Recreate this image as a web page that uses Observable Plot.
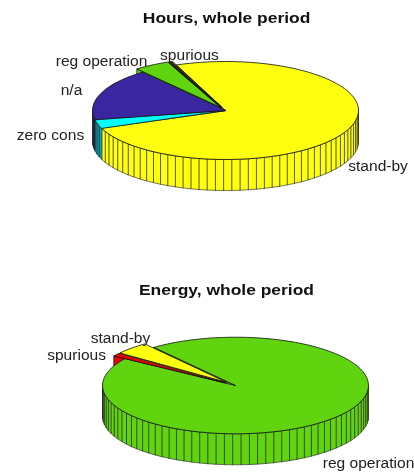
<!DOCTYPE html>
<html>
<head>
<meta charset="utf-8">
<script src="https://cdn.jsdelivr.net/npm/d3@7"></script>
<script src="https://cdn.jsdelivr.net/npm/@observablehq/plot@0.6"></script>
<style>
html,body{margin:0;padding:0;background:#fff;overflow:hidden}
svg{display:block;filter:blur(0.45px)}
</style>
</head>
<body>
<div id="chart"></div>
<script>
const hoursTitle = "Hours, whole period";
const hoursLabels = ["stand-by", "zero cons", "n/a", "reg operation", "spurious"];
const hoursValues = [75.1, 2.9, 17.3, 4.3, 0.4];
const hoursPulled = ["reg operation", "spurious"];

const energyTitle = "Energy, whole period";
const energyLabels = ["reg operation", "spurious", "stand-by"];
const energyValues = [94.86, 0.97, 4.17];
const energyPulled = ["spurious", "stand-by"];

const colorDomain = ["stand-by", "zero cons", "n/a", "reg operation", "spurious"];
const hoursColors = ["#ffff10", "#00ffff", "#3a26a0", "#5fd40f", "#2a2a10"];
const energyColors = ["#ffff10", "#00ffff", "#3a26a0", "#5fd40f", "#f00000"];
const hoursWalls = ["#ffff10", "#00a0b0", "#14104c", "#5fd40f", "#2a2a10"];
const energyWalls = ["#ffff10", "#00a0b0", "#14104c", "#5fd40f", "#f00000"];

function pie3d({title, labels, values, pulled, pull, colors, wallColors, start, cx, cy, ry, placed, titleAt}) {
  const depth = 31 / ry, step = 3.6;
  const rad = d => d * Math.PI / 180;
  const total = d3.sum(values);
  let a = start;
  const slices = labels.map((label, i) => {
    const a0 = a, a1 = a - values[i] / total * 360;
    a = a1;
    const mid = rad((a0 + a1) / 2), on = pulled.includes(label);
    return {label, a0, a1, on, ox: on ? pull * Math.cos(mid) : 0, oy: on ? pull * Math.sin(mid) : 0};
  });
  const tops = [], faces = [], rims = [];
  let id = 0;
  slices.forEach((s, i) => {
    const before = slices[(i + slices.length - 1) % slices.length];
    const after = slices[(i + 1) % slices.length];
    const n = Math.max(1, Math.ceil((s.a0 - s.a1) / step));
    const arc = d3.range(n + 1).map(k => {
      const t = rad(s.a0 - (s.a0 - s.a1) * k / n);
      return [s.ox + Math.cos(t), s.oy + Math.sin(t), Math.sin(t)];
    });
    const apex = [s.ox, s.oy];
    id++;
    tops.push({id, label: s.label, x: apex[0], y: apex[1]});
    arc.forEach(p => tops.push({id, label: s.label, x: p[0], y: p[1]}));
    const wall = (list, p, q) => {
      id++;
      [[p[0], p[1]], [q[0], q[1]], [q[0], q[1] - depth], [p[0], p[1] - depth]]
        .forEach(v => list.push({id, label: s.label, rank: s.on ? 1 - s.oy : 0, x: v[0], y: v[1]}));
    };
    if (Math.sin(rad(s.a0 + 90)) < 0 && (s.on || before.on)) wall(faces, apex, arc[0]);
    if (Math.sin(rad(s.a1 - 90)) < 0 && (s.on || after.on)) wall(faces, apex, arc[n]);
    for (let k = 0; k < n; k++) {
      const p = arc[k], q = arc[k + 1];
      if (p[2] + q[2] < 0) wall(rims, p, q);
    }
  });
  const orderedFaces = d3.sort(faces, d => d.rank);
  const wallFill = d => wallColors[colorDomain.indexOf(d.label)];
  const edge = {stroke: "#111", strokeWidth: 0.8, strokeLinejoin: "round", curve: "linear-closed"};
  return Plot.plot({
    width: 414, height: 236, margin: 0,
    x: {domain: [-cx / 133, (414 - cx) / 133], range: [0, 414], axis: null},
    y: {domain: [(cy - 236) / ry, cy / ry], range: [236, 0], axis: null},
    color: {domain: colorDomain, range: colors},
    marks: [
      Plot.line(orderedFaces, {x: "x", y: "y", z: "id", fill: "label", ...edge}),
      Plot.line(rims, {x: "x", y: "y", z: "id", fill: {value: wallFill, scale: null}, ...edge, strokeWidth: 0.6, stroke: "#222"}),
      Plot.line(tops, {x: "x", y: "y", z: "id", fill: "label", ...edge}),
      Plot.text(placed, {x: "x", y: "y", text: "label", className: "lab",
        fontFamily: "Liberation Sans", fontSize: 14, fill: "#222"}),
      Plot.text([title], {x: titleAt[0], y: titleAt[1], text: d => d, className: "ttl",
        fontFamily: "Liberation Sans", fontWeight: "bold", fontSize: 14, fill: "#111"})
    ]
  });
}

const hoursPlaced = [
  {label: "stand-by", x: 1.147, y: -1.143},
  {label: "zero cons", x: -1.316, y: -0.51},
  {label: "n/a", x: -1.158, y: 0.408},
  {label: "reg operation", x: -0.932, y: 1.0},
  {label: "spurious", x: -0.271, y: 1.122}
];
const energyPlaced = [
  {label: "stand-by", x: -0.865, y: 0.973},
  {label: "spurious", x: -1.195, y: 0.621},
  {label: "reg operation", x: 1.0, y: -1.615}
];

const host = document.getElementById("chart");
host.append(pie3d({title: hoursTitle, labels: hoursLabels, values: hoursValues, pulled: hoursPulled, pull: 0.08,
  colors: hoursColors, wallColors: hoursWalls,
  start: 111.8, cx: 225, cy: 110, ry: 49, placed: hoursPlaced, titleAt: [0.008, 1.878]}));
host.append(pie3d({title: energyTitle, labels: energyLabels, values: energyValues, pulled: energyPulled, pull: 0.1,
  colors: energyColors, wallColors: energyWalls,
  start: 127.9, cx: 235, cy: 149, ry: 48.3, placed: energyPlaced, titleAt: [-0.068, 1.967]}));

// the reference's lettering is drawn wider than the font's natural width
const widen = (sel, k) => host.querySelectorAll(sel + " text").forEach(t => {
  t.setAttribute("lengthAdjust", "spacingAndGlyphs");
  t.setAttribute("textLength", t.getComputedTextLength() * k);
});
widen(".lab", 1.11);
widen(".ttl", 1.245);
</script>
</body>
</html>
